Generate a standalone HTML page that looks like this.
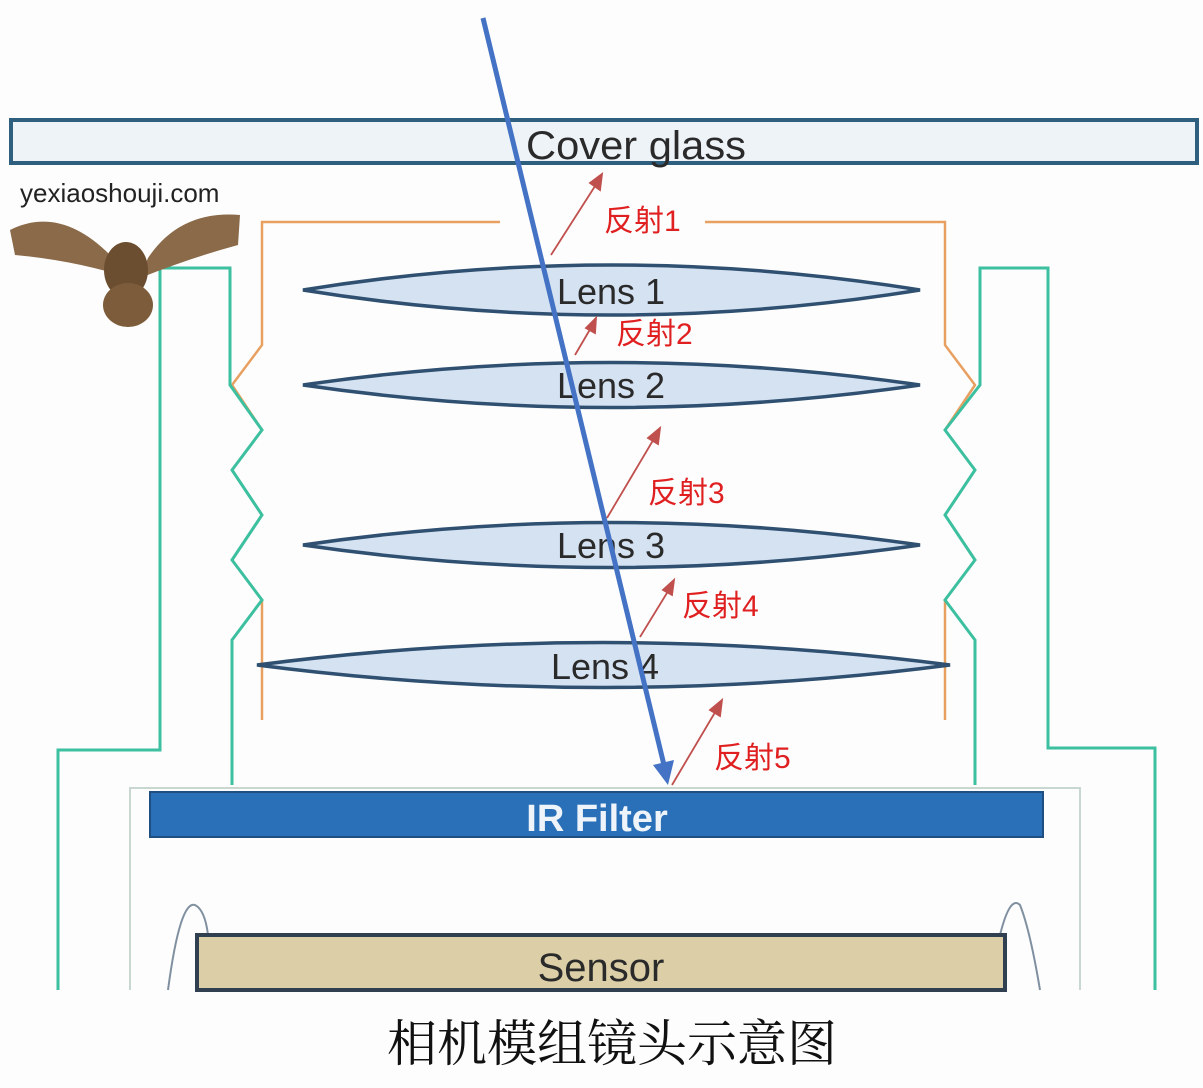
<!DOCTYPE html>
<html><head><meta charset="utf-8"><style>
html,body{margin:0;padding:0;background:#fff;}
svg{display:block;}
</style></head><body>
<svg width="1203" height="1088" viewBox="0 0 1203 1088" xmlns="http://www.w3.org/2000/svg">
<rect width="1203" height="1088" fill="#fdfdfd"/>
<rect x="11" y="120" width="1186" height="43" fill="#eef3f8" stroke="#2f5f7f" stroke-width="4"/>
<text x="636" y="159" font-family="Liberation Sans, sans-serif" font-size="40" fill="#2a2a2a" text-anchor="middle" textLength="220" lengthAdjust="spacingAndGlyphs">Cover glass</text>
<g fill="none" stroke="#e8a060" stroke-width="2.5">
<polyline points="500,222 262,222 262,345 232,385 262,430 232,470 262,515 232,560 262,600 262,720"/>
<polyline points="705,222 945,222 945,345 975,385 945,430 975,470 945,515 975,560 945,600 945,720"/>
</g>
<g fill="none" stroke="#3cc0a0" stroke-width="3">
<polyline points="58,990 58,750 160,750 160,268 230,268 230,385 262,430 232,470 262,515 232,560 262,600 232,640 232,785"/>
<polyline points="1155,990 1155,748 1048,748 1048,268 980,268 980,385 945,430 975,470 945,515 975,560 945,600 975,640 975,785"/>
</g>
<polyline points="130,990 130,788 1080,788 1080,990" fill="none" stroke="#c8d8d0" stroke-width="2"/>
<g fill="#d5e2f2" stroke="#2f5070" stroke-width="3.5">
<path d="M303,290 Q611,240 920,290 Q611,340 303,290 Z"/>
<path d="M303,385 Q611,340 920,385 Q611,430 303,385 Z"/>
<path d="M303,545 Q611,500 920,545 Q611,590 303,545 Z"/>
<path d="M257,665 Q603,620 950,665 Q603,710 257,665 Z"/>
</g>
<g font-family="Liberation Sans, sans-serif" font-size="36" fill="#2a2a2a" text-anchor="middle">
<text x="611" y="304">Lens 1</text>
<text x="611" y="398">Lens 2</text>
<text x="611" y="558">Lens 3</text>
<text x="605" y="679">Lens 4</text>
</g>
<rect x="150" y="792" width="893" height="45" fill="#2a70b8" stroke="#1f4f80" stroke-width="2"/>
<text x="597" y="831" font-family="Liberation Sans, sans-serif" font-size="38" font-weight="bold" fill="#eef4fa" text-anchor="middle">IR Filter</text>
<path d="M168,990 Q180,900 195,905 Q205,910 208,935" fill="none" stroke="#8090a0" stroke-width="2"/>
<path d="M1000,935 Q1010,895 1020,905 Q1030,930 1040,990" fill="none" stroke="#8090a0" stroke-width="2"/>
<rect x="197" y="935" width="808" height="55" fill="#dccfa8" stroke="#304050" stroke-width="4"/>
<text x="601" y="981" font-family="Liberation Sans, sans-serif" font-size="40" fill="#2a2a2a" text-anchor="middle">Sensor</text>
<line x1="483" y1="18" x2="664" y2="765" stroke="#4472c4" stroke-width="5"/>
<polygon points="668,785 653,765 674,760" fill="#4472c4"/>
<g stroke="#c0504d" stroke-width="1.8" fill="#c0504d">
<line x1="551" y1="255" x2="597" y2="183"/><polygon points="602,174 600,190 590,183"/>
<line x1="575" y1="355" x2="592" y2="326"/><polygon points="596,318 595,333 586,328"/>
<line x1="607" y1="518" x2="655" y2="437"/><polygon points="660,428 658,444 648,438"/>
<line x1="640" y1="637" x2="670" y2="588"/><polygon points="674,580 672,595 663,590"/>
<line x1="672" y1="785" x2="717" y2="709"/><polygon points="722,700 720,716 710,710"/>
</g>
<g font-family="Liberation Sans, 'Noto Sans CJK SC', sans-serif" font-size="30" fill="#e02020">
<text x="604" y="231">反射1</text>
<text x="616" y="344">反射2</text>
<text x="648" y="503">反射3</text>
<text x="682" y="616">反射4</text>
<text x="714" y="768">反射5</text>
</g>
<text x="20" y="202" font-family="Liberation Sans, sans-serif" font-size="26" fill="#222">yexiaoshouji.com</text>
<g>
<path d="M10,230 Q60,205 110,255 L120,275 Q70,260 15,255 Z" fill="#8a6a48"/>
<path d="M240,215 Q180,210 148,258 L140,278 Q190,258 238,245 Z" fill="#8a6a48"/>
<ellipse cx="126" cy="270" rx="22" ry="28" fill="#6b4e30"/>
<ellipse cx="128" cy="305" rx="25" ry="22" fill="#7c5c3a"/>
</g>
<text x="612" y="1061" font-family="'Noto Serif CJK SC', serif" font-size="50" fill="#111" text-anchor="middle">相机模组镜头示意图</text>
</svg>
</body></html>
